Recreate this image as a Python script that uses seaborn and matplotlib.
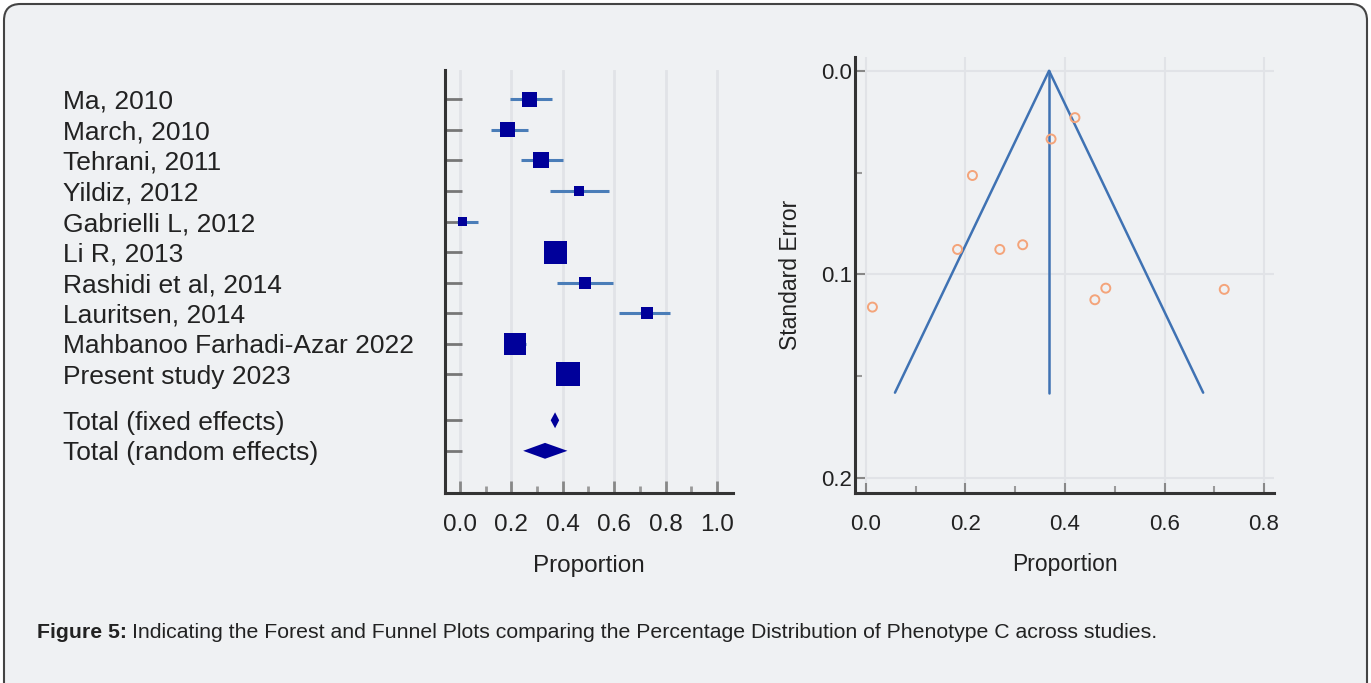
import matplotlib
matplotlib.use("Agg")
import matplotlib.pyplot as plt
from matplotlib.patches import FancyBboxPatch
from matplotlib.ticker import MultipleLocator
import numpy as np
import pandas as pd
import seaborn as sns

# forest plot data (proportion with 95% CI, relative weight)
studies = ["Ma, 2010", "March, 2010", "Tehrani, 2011", "Yildiz, 2012",
           "Gabrielli L, 2012", "Li R, 2013", "Rashidi et al, 2014",
           "Lauritsen, 2014", "Mahbanoo Farhadi-Azar 2022", "Present study 2023"]
prop = [0.27, 0.184, 0.315, 0.463, 0.01, 0.372, 0.485, 0.726, 0.214, 0.42]
ci_lo = [0.195, 0.12, 0.236, 0.35, -0.01, 0.33, 0.376, 0.619, 0.17, 0.375]
ci_hi = [0.357, 0.263, 0.40, 0.58, 0.069, 0.41, 0.594, 0.816, 0.257, 0.465]
weight = [15, 15, 16, 10, 9, 23, 12, 12, 22, 24]

totals = ["Total (fixed effects)", "Total (random effects)"]
tot_est = [0.37, 0.331]
tot_lo = [0.353, 0.246]
tot_hi = [0.386, 0.418]

# funnel plot data
fun_prop = [0.42, 0.372, 0.214, 0.184, 0.269, 0.315, 0.482, 0.46, 0.72, 0.013]
fun_se = [0.023, 0.0335, 0.0514, 0.0877, 0.0877, 0.0854, 0.1067, 0.1124, 0.1073, 0.116]
pooled = 0.368
se_max = 0.158

sns.set_style("ticks")
plt.rcParams['font.family'] = ['Liberation Sans', 'DejaVu Sans']

bg = "#eff1f3"
navy = "#00009a"
ci_col = "#4a7db8"
grid_col = "#e1e3e7"
spine_col = "#333333"

fig = plt.figure(figsize=(13.71, 6.83), dpi=100, facecolor="white")
box = FancyBboxPatch((4 / 1371, -20 / 683), 1363 / 1371, 699 / 683,
                     boxstyle="round,pad=0,rounding_size=0.012",
                     transform=fig.transFigure, facecolor=bg, zorder=-5,
                     edgecolor="#444444", linewidth=1.5, mutation_aspect=1371 / 683)
fig.patches.append(box)

# ---------------- forest plot ----------------
ax1 = fig.add_axes([445 / 1371, 1 - 493 / 683, 288 / 1371, 423 / 683])
ax1.set_facecolor(bg)
rows = list(range(1, len(studies) + 1))
tot_rows = [11.5, 12.5]

ax1.hlines(rows, ci_lo, ci_hi, color=ci_col, linewidth=2.2, zorder=2)
df = pd.DataFrame({"prop": prop, "row": rows, "w": weight})
sns.scatterplot(data=df, x="prop", y="row", marker="s", s=(np.array(weight) * 0.72) ** 2,
                color=navy, edgecolor=navy, linewidth=0, ax=ax1, zorder=3, legend=False)
for r, est, lo, hi in zip(tot_rows, tot_est, tot_lo, tot_hi):
    h = 0.26
    ax1.fill([lo, est, hi, est], [r, r - h, r, r + h], color=navy, zorder=3, linewidth=0)

ax1.set_xlim(-0.058, 1.062)
ax1.set_ylim(13.88, 0.04)
ax1.set_xticks(np.arange(0, 1.01, 0.2))
ax1.set_xticklabels([f"{v:.1f}" for v in np.arange(0, 1.01, 0.2)])
ax1.xaxis.set_minor_locator(MultipleLocator(0.1))
ax1.set_yticks(rows + tot_rows)
ax1.set_yticklabels([])
ax1.grid(axis="x", color=grid_col, linewidth=2)
ax1.set_axisbelow(True)
for s in ["top", "right"]:
    ax1.spines[s].set_visible(False)
for s in ["left", "bottom"]:
    ax1.spines[s].set_color(spine_col)
    ax1.spines[s].set_linewidth(2.2)
ax1.tick_params(axis="y", direction="in", length=12, width=2, color="#777777")
ax1.tick_params(axis="x", which="major", direction="in", length=9, width=2, color="#888888",
                labelsize=17.5, pad=15, labelcolor="#222222")
ax1.tick_params(axis="x", which="minor", direction="in", length=5, width=2, color="#999999")
ax1.set_xlabel("Proportion", fontsize=17.5, labelpad=14, color="#222222")
ax1.set_ylabel("")
for name, r in zip(studies + totals, rows + tot_rows):
    ax1.text(-382 / 288, r, name, transform=ax1.get_yaxis_transform(), ha="left",
             va="center_baseline", fontsize=19, color="#222222")

# ---------------- funnel plot ----------------
ax2 = fig.add_axes([855 / 1371, 1 - 492.7 / 683, 419 / 1371, 436 / 683])
ax2.set_facecolor(bg)
ax2.plot([pooled - 1.96 * se_max, pooled, pooled + 1.96 * se_max], [se_max, 0, se_max],
         color="#3f72b3", linewidth=1.8, zorder=2)
ax2.plot([pooled, pooled], [0, se_max], color="#3f72b3", linewidth=1.8, zorder=2)
fdf = pd.DataFrame({"p": fun_prop, "se": fun_se})
sns.scatterplot(data=fdf, x="p", y="se", marker="o", s=42, facecolor="none",
                edgecolor="#f4a47a", linewidth=1.4, ax=ax2, zorder=3, legend=False)
ax2.set_xlim(-0.022, 0.82)
ax2.set_ylim(0.2071, -0.0069)
ax2.set_xticks([0, 0.2, 0.4, 0.6, 0.8])
ax2.set_xticklabels(["0.0", "0.2", "0.4", "0.6", "0.8"])
ax2.set_yticks([0, 0.1, 0.2])
ax2.set_yticklabels(["0.0", "0.1", "0.2"])
ax2.xaxis.set_minor_locator(MultipleLocator(0.1))
ax2.yaxis.set_minor_locator(MultipleLocator(0.05))
ax2.grid(True, color=grid_col, linewidth=1.5)
ax2.set_axisbelow(True)
for s in ["top", "right"]:
    ax2.spines[s].set_visible(False)
for s in ["left", "bottom"]:
    ax2.spines[s].set_color(spine_col)
    ax2.spines[s].set_linewidth(2.2)
ax2.tick_params(which="major", direction="in", length=7, width=1.5, color="#888888",
                labelsize=16, labelcolor="#222222")
ax2.tick_params(which="minor", direction="in", length=5, width=1.5, color="#999999")
ax2.tick_params(axis="x", pad=15)
ax2.tick_params(axis="y", pad=2)
ax2.set_xlabel("Proportion", fontsize=16.5, labelpad=13, color="#222222")
ax2.set_ylabel("Standard Error", fontsize=16.5, labelpad=14, color="#222222")

# caption
cap_y = 1 - 632 / 683
t_bold = fig.text(37 / 1371, cap_y, "Figure 5:", fontsize=15.3, fontweight="bold",
                  ha="left", va="center", color="#222222")
fig.canvas.draw()
bb = t_bold.get_window_extent()
fig.text((bb.x1 + 5) / 1371, cap_y,
         "Indicating the Forest and Funnel Plots comparing the Percentage Distribution of Phenotype C across studies.",
         fontsize=15.3, ha="left", va="center", color="#222222")

fig.savefig("out.png", dpi=100, facecolor="white")
